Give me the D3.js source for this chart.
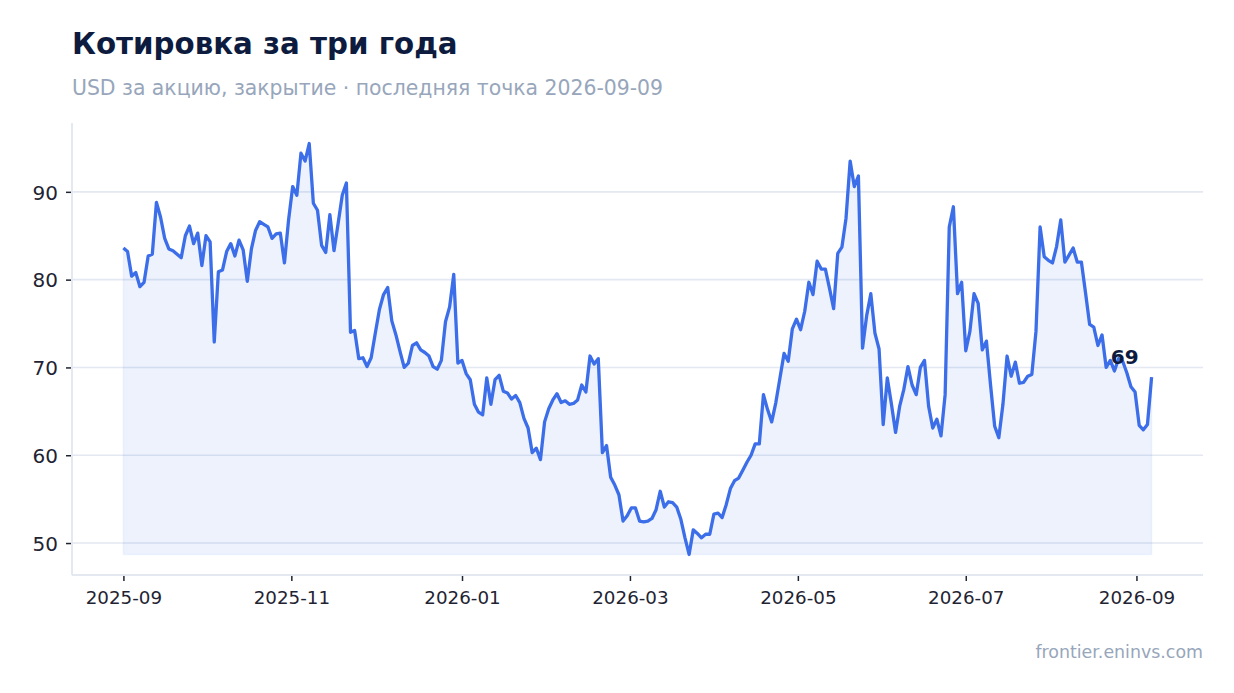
<!DOCTYPE html>
<html>
<head>
<meta charset="utf-8">
<script src="https://cdn.jsdelivr.net/npm/d3@7"></script>
<style>
  html, body { margin: 0; padding: 0; background: #fff; }
  svg { display: block; font-family: "DejaVu Sans", sans-serif; }
</style>
</head>
<body>
<div id="chart"></div>
<script>
(function () {
  "use strict";

  // closes, one every 36h starting 2025-09-01
  var START = new Date(2025, 8, 1);
  var STEP_HOURS = 36;
  var closes = [
    83.6, 83.2, 80.4, 80.8, 79.2, 79.7, 82.7, 82.9, 88.8, 87.1,
    84.7, 83.5, 83.3, 82.9, 82.5, 85.0, 86.1, 84.1, 85.3, 81.6,
    85.0, 84.3, 72.9, 80.9, 81.1, 83.2, 84.1, 82.7, 84.5, 83.4,
    79.8, 83.5, 85.6, 86.6, 86.3, 86.0, 84.7, 85.2, 85.3, 81.9,
    86.8, 90.6, 89.6, 94.4, 93.5, 95.5, 88.7, 87.9, 83.9, 83.1,
    87.4, 83.3, 86.4, 89.6, 91.0, 74.0, 74.2, 71.0, 71.1, 70.1,
    71.1, 73.9, 76.6, 78.3, 79.1, 75.3, 73.7, 71.8, 70.0, 70.5,
    72.5, 72.8, 72.0, 71.7, 71.3, 70.1, 69.8, 70.8, 75.2, 76.9,
    80.6, 70.5, 70.8, 69.3, 68.6, 65.8, 64.9, 64.6, 68.8, 65.8,
    68.6, 69.1, 67.3, 67.1, 66.4, 66.8, 66.0, 64.2, 63.1, 60.3,
    60.8, 59.5, 63.8, 65.3, 66.3, 67.0, 66.0, 66.2, 65.8, 65.9,
    66.3, 68.0, 67.2, 71.3, 70.4, 71.0, 60.3, 61.1, 57.5, 56.6,
    55.5, 52.5, 53.1, 54.0, 54.0, 52.5, 52.4, 52.5, 52.8, 53.8,
    55.9, 54.1, 54.7, 54.6, 54.1, 52.7, 50.6, 48.7, 51.5, 51.1,
    50.6, 51.0, 51.0, 53.3, 53.4, 52.9, 54.4, 56.2, 57.1, 57.4,
    58.3, 59.2, 60.0, 61.3, 61.3, 66.9, 65.2, 63.8, 66.0, 68.8,
    71.6, 70.7, 74.4, 75.5, 74.3, 76.4, 79.7, 78.3, 82.1, 81.2,
    81.2, 79.0, 76.7, 83.0, 83.7, 87.0, 93.5, 90.6, 91.8, 72.2,
    75.9, 78.4, 73.9, 72.1, 63.5, 68.8, 65.8, 62.6, 65.6, 67.5,
    70.1, 68.0, 66.9, 70.0, 70.8, 65.6, 63.1, 64.1, 62.2, 66.9,
    86.0, 88.3, 78.4, 79.7, 71.9, 74.1, 78.4, 77.3, 72.0, 73.0,
    68.0, 63.3, 62.0, 65.8, 71.3, 69.0, 70.6, 68.2, 68.3, 69.0,
    69.2, 74.1, 86.0, 82.6, 82.2, 81.9, 83.8, 86.8, 82.0, 82.8,
    83.6, 82.0, 82.0, 78.5, 74.9, 74.6, 72.5, 73.7, 70.0, 70.8,
    69.6, 71.0, 70.7, 69.4, 67.8, 67.2, 63.4, 62.9, 63.5, 68.9
  ];
  var yTicks = [50, 60, 70, 80, 90];
  // x ticks sit at an even two-month step in the original chart
  var xTickDates = [
    "2025-09-01", "2025-11-01", "2026-01-02", "2026-03-04",
    "2026-05-04", "2026-07-04", "2026-09-04"
  ];

  var TITLE    = "Котировка за три года";
  var SUBTITLE = "USD за акцию, закрытие · последняя точка 2026-09-09";
  var SOURCE   = "frontier.eninvs.com";

  var LINE     = "#3b6ee8";
  var INK      = "#0d1b3e";
  var MUTED    = "#97a6bb";
  var GRID     = "#e3e8f1";
  var TICK_TXT = "#1f2433";

  var W = 1234, H = 693;
  var left = 72, right = 1203, top = 123, bottom = 575;

  var parse = d3.timeParse("%Y-%m-%d");
  var data = closes.map(function (v, i) {
    return { date: d3.timeHour.offset(START, i * STEP_HOURS), value: v };
  });

  var svg = d3.select("#chart").append("svg")
    .attr("width", W).attr("height", H);

  var xExt = d3.extent(data, function (d) { return d.date; });
  var xPad = (xExt[1] - xExt[0]) * 0.05;
  var x = d3.scaleTime()
    .domain([new Date(+xExt[0] - xPad), new Date(+xExt[1] + xPad)])
    .range([left, right]);

  var yExt = d3.extent(closes);
  var yPad = (yExt[1] - yExt[0]) * 0.05;
  var y = d3.scaleLinear()
    .domain([yExt[0] - yPad, yExt[1] + yPad])
    .range([bottom, top]);

  // grid
  svg.append("g").selectAll("line").data(yTicks).enter().append("line")
    .attr("x1", left).attr("x2", right)
    .attr("y1", function (d) { return y(d); })
    .attr("y2", function (d) { return y(d); })
    .attr("stroke", GRID).attr("stroke-width", 1.6);

  // area + line
  svg.append("path")
    .datum(data)
    .attr("fill", LINE).attr("fill-opacity", 0.09)
    .attr("stroke", LINE).attr("stroke-opacity", 0.06).attr("stroke-width", 1.5)
    .attr("d", d3.area()
      .x(function (d) { return x(d.date); })
      .y0(y(yExt[0]))
      .y1(function (d) { return y(d.value); }));

  svg.append("path")
    .datum(data)
    .attr("fill", "none")
    .attr("stroke", LINE).attr("stroke-width", 3.3)
    .attr("stroke-linejoin", "round")
    .attr("d", d3.line()
      .x(function (d) { return x(d.date); })
      .y(function (d) { return y(d.value); }));

  // axes
  var xAxis = svg.append("g")
    .attr("transform", "translate(0," + bottom + ")")
    .call(d3.axisBottom(x)
      .tickValues(xTickDates.map(parse))
      .tickFormat(d3.timeFormat("%Y-%m"))
      .tickSizeOuter(0).tickSize(6).tickPadding(10));

  var yAxis = svg.append("g")
    .attr("transform", "translate(" + left + ",0)")
    .call(d3.axisLeft(y).tickValues(yTicks)
      .tickSizeOuter(0).tickSize(6).tickPadding(8));

  [xAxis, yAxis].forEach(function (g) {
    g.select(".domain").remove();
    g.selectAll(".tick line").attr("stroke", TICK_TXT).attr("stroke-width", 1.5);
    g.selectAll(".tick text")
      .attr("fill", TICK_TXT)
      .style("font-family", "'DejaVu Sans', sans-serif");
  });
  xAxis.selectAll(".tick text").style("font-size", "18.3px");
  yAxis.selectAll(".tick text").style("font-size", "20px").attr("dy", "0.36em");
  yAxis.selectAll(".tick line").attr("x1", -1);

  // plain frame lines in place of the axis domains
  svg.append("line")
    .attr("x1", left).attr("x2", right).attr("y1", bottom).attr("y2", bottom)
    .attr("stroke", GRID).attr("stroke-width", 2);
  svg.append("line")
    .attr("x1", left).attr("x2", left).attr("y1", top).attr("y2", bottom)
    .attr("stroke", GRID).attr("stroke-width", 2);

  // last value label
  var last = data[data.length - 1];
  svg.append("text")
    .attr("x", x(last.date) - 13)
    .attr("y", y(last.value) - 13)
    .attr("text-anchor", "end")
    .attr("fill", INK)
    .attr("font-weight", "bold")
    .attr("font-size", "20px")
    .text(d3.format(".0f")(last.value));

  // titles
  svg.append("text")
    .attr("x", 72).attr("y", 54)
    .attr("fill", INK).attr("font-weight", "bold").attr("font-size", "29.3px")
    .text(TITLE);

  svg.append("text")
    .attr("x", 72).attr("y", 95)
    .attr("fill", MUTED).attr("font-size", "20.4px")
    .text(SUBTITLE);

  svg.append("text")
    .attr("x", right).attr("y", 658)
    .attr("text-anchor", "end")
    .attr("fill", MUTED).attr("font-size", "17.4px")
    .text(SOURCE);
}());
</script>
</body>
</html>
